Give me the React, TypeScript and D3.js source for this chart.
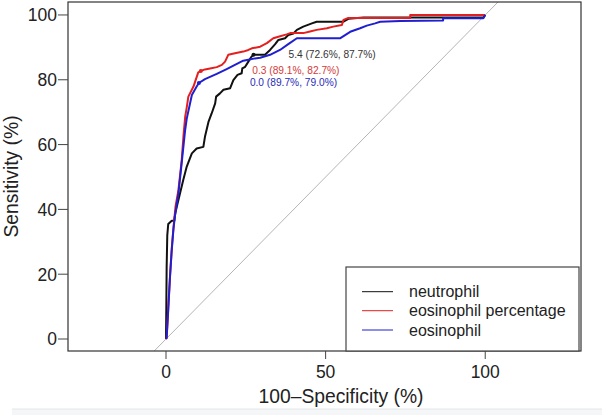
import React from "react";
import * as d3 from "d3";

// ROC curves: x = 100 - specificity (%), y = sensitivity (%)
const neutrophilX = [0, 0.1, 0.2, 0.4, 0.7, 1.8, 2.6, 2.9, 3.9, 4.4, 5.4, 6.5, 8.1, 9.6, 11.7, 12.2, 13.3, 14.3, 15.4, 15.7, 16.9, 18.0, 20.1, 21.1, 22.4, 23.7, 23.9, 24.8, 25.8, 26.6, 27.4, 31.0, 32.6, 34.2, 35.2, 37.3, 38.3, 39.9, 41.0, 43.0, 45.7, 47.2, 55.6, 57.1, 61.9, 99.4, 100];
const neutrophilY = [0, 10, 22, 32, 35.5, 36.5, 36.5, 38.8, 43.0, 45.0, 49.1, 53.2, 57.3, 58.8, 59.3, 62.4, 67.0, 69.6, 72.7, 74.8, 75.8, 76.9, 77.4, 79.9, 81.5, 82.0, 83.5, 84.0, 85.6, 86.9, 87.7, 87.7, 89.2, 91.0, 92.3, 92.8, 93.8, 94.3, 95.4, 96.4, 97.4, 97.9, 97.9, 98.8, 99.2, 99.2, 100];

const eosPctX = [0, 0.2, 0.7, 1.3, 1.8, 2.4, 3.0, 3.9, 4.9, 5.5, 6.0, 6.5, 7.0, 8.6, 10.1, 10.9, 12.2, 13.8, 15.9, 17.5, 18.5, 19.5, 21.6, 24.2, 25.8, 26.9, 29.5, 31.6, 33.6, 35.2, 37.8, 38.9, 43.0, 45.1, 47.2, 50.4, 52.4, 55.1, 55.6, 57.1, 76.5, 76.5, 100];
const eosPctY = [0, 0.3, 9.5, 20, 28, 35, 41, 46, 55, 63, 68.5, 71.5, 74.8, 77.9, 82.3, 82.7, 83.2, 83.5, 83.9, 84.6, 85.6, 87.7, 88.2, 88.7, 89.2, 89.7, 90.2, 91.3, 92.8, 93.3, 94.0, 94.4, 94.4, 94.9, 95.4, 95.9, 96.4, 96.9, 98.5, 99.1, 99.1, 100, 100];

const eosX = [0, 0.2, 0.7, 1.25, 1.8, 2.3, 2.8, 3.9, 4.9, 6.0, 6.5, 8.1, 9.6, 10.3, 12.2, 15.9, 19.0, 22.2, 24.2, 25.8, 27.9, 29.5, 32.6, 35.7, 38.3, 41.0, 54.5, 56.1, 57.7, 60.8, 62.9, 65.5, 67.1, 73.4, 86.8, 86.8, 99.4, 100];
const eosY = [0, 0.3, 9.0, 19.2, 27.4, 33.6, 38.0, 45.0, 54.2, 64.5, 68.0, 75.3, 77.9, 79.0, 80.2, 81.8, 83.3, 84.9, 85.9, 86.2, 86.6, 86.8, 87.7, 89.2, 91.0, 92.8, 92.8, 93.8, 94.8, 95.9, 96.7, 97.4, 97.9, 98.1, 98.3, 99.0, 99.0, 100];

const seriesNames = ["neutrophil", "eosinophil percentage", "eosinophil"];
const seriesColors = ["#111111", "#e41f1f", "#1f1fd0"];
const labelColors = ["#333333", "#d43a3a", "#2a2ab8"];

// best thresholds: threshold, specificity, sensitivity
const thresholds = [5.4, 0.3, 0.0];
const thrSpec = [72.6, 89.1, 89.7];
const thrSens = [87.7, 82.7, 79.0];

const xTicks = [0, 50, 100];
const yTicks = [0, 20, 40, 60, 80, 100];

const FONT = "'Liberation Sans', Arial, sans-serif";

export default function App() {
  const W = 602, H = 415;
  const left = 68, right = 581, top = 2, bottom = 351;
  const x = d3.scaleLinear().domain([-30.7, 130]).range([left, right]);
  const y = d3.scaleLinear().domain([-3.7, 104]).range([bottom, top]);

  const series = [
    { xs: neutrophilX, ys: neutrophilY },
    { xs: eosPctX, ys: eosPctY },
    { xs: eosX, ys: eosY },
  ];
  const line = d3
    .line<[number, number]>()
    .x((d) => x(d[0]))
    .y((d) => y(d[1]));

  // label offsets in pixels relative to threshold point
  const labelOffsets = [
    [35, 3.5],
    [51.5, 3],
    [51, 3],
  ];

  const diag: [number, number][] = [
    [-3.7, -3.7],
    [104, 104],
  ];

  const legendX = 346, legendY = 267, legendW = 233, legendH = 84;
  const legendRows = [291.7, 310.7, 330];

  return (
    <svg
      width={W}
      height={H}
      style={{ position: "absolute", left: 0, top: 0, background: "#fff" }}
      fontFamily={FONT}
    >
      <rect x={0} y={0} width={W} height={H} fill="#fff" />
      <rect x={12} y={409} width={W - 12} height={6} fill="#f4f6f7" />
      <line x1={12} x2={W} y1={409} y2={409} stroke="#e2e6e8" strokeWidth={1} />
      <defs>
        <clipPath id="plotclip">
          <rect x={left} y={top} width={right - left} height={bottom - top} />
        </clipPath>
      </defs>
      {/* diagonal */}
      <path
        d={line(diag) || ""}
        stroke="#b5b5b5"
        strokeWidth={1}
        fill="none"
        clipPath="url(#plotclip)"
      />
      {/* curves */}
      {series.map((s, i) => (
        <path
          key={i}
          d={line(s.xs.map((v, j) => [v, s.ys[j]] as [number, number])) || ""}
          stroke={seriesColors[i]}
          strokeWidth={2}
          fill="none"
          strokeLinejoin="round"
        />
      ))}
      {/* threshold points and labels */}
      {thresholds.map((t, i) => {
        const px = x(100 - thrSpec[i]);
        const py = y(thrSens[i]);
        return (
          <g key={i}>
            <circle cx={px} cy={py} r={2} fill={seriesColors[i]} />
            <text
              x={px + labelOffsets[i][0]}
              y={py + labelOffsets[i][1]}
              fontSize={10.2}
              fill={labelColors[i]}
            >
              {`${t.toFixed(1)} (${thrSpec[i].toFixed(1)}%, ${thrSens[i].toFixed(1)}%)`}
            </text>
          </g>
        );
      })}
      {/* frame */}
      <rect
        x={left}
        y={top}
        width={right - left}
        height={bottom - top}
        fill="none"
        stroke="#333"
        strokeWidth={1.2}
      />
      {/* y axis */}
      {yTicks.map((t) => (
        <g key={t}>
          <line x1={left - 10} x2={left} y1={y(t)} y2={y(t)} stroke="#444" strokeWidth={1} />
          <text
            x={left - 11}
            y={y(t)}
            dy="0.36em"
            textAnchor="end"
            fontSize={17.5}
            fill="#222"
          >
            {t}
          </text>
        </g>
      ))}
      {/* x axis */}
      {xTicks.map((t) => (
        <g key={t}>
          <line x1={x(t)} x2={x(t)} y1={bottom} y2={bottom + 8} stroke="#444" strokeWidth={1} />
          <text x={x(t)} y={378} textAnchor="middle" fontSize={17.5} fill="#222">
            {t}
          </text>
        </g>
      ))}
      <text x={341} y={402.5} textAnchor="middle" fontSize={19.3} fill="#222">
        100–Specificity (%)
      </text>
      <text
        transform={`translate(17.5, ${(top + bottom) / 2}) rotate(-90)`}
        textAnchor="middle"
        fontSize={19.3}
        fill="#222"
      >
        Sensitivity (%)
      </text>
      {/* legend */}
      <rect
        x={legendX}
        y={legendY}
        width={legendW}
        height={legendH}
        fill="#fff"
        stroke="#444"
        strokeWidth={1.2}
      />
      {seriesNames.map((n, i) => (
        <g key={n}>
          <line
            x1={362}
            x2={393}
            y1={legendRows[i]}
            y2={legendRows[i]}
            stroke={seriesColors[i]}
            strokeWidth={1}
          />
          <text x={409} y={legendRows[i]} dy="0.35em" fontSize={16} fill="#222">
            {n}
          </text>
        </g>
      ))}
    </svg>
  );
}
